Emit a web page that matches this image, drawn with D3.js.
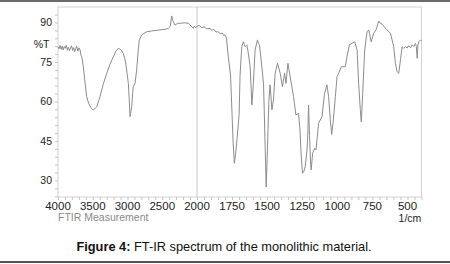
<!DOCTYPE html>
<html lang="en">
  <head>
    <meta charset="utf-8">
    <title>FT-IR spectrum</title>
    <script src="https://cdn.jsdelivr.net/npm/d3@7"></script>
    <style>
      body { margin: 0; background: #fff; }
      svg { display: block; font-family: 'Liberation Sans', Arial, sans-serif; }
    </style>
  </head>
  <body>
    <div id="chart"></div>
    <script>
      // spectrum (wavenumber in 1/cm, transmittance in %T)
      let wavenumbers = [
        4000, 3985, 3970, 3955, 3940, 3925, 3910, 3895, 3880, 3865, 3850, 3835, 3820, 3805, 3790, 3775,
        3760, 3745, 3730, 3715, 3700, 3683, 3670, 3655, 3636, 3612, 3587, 3565, 3540, 3515, 3492, 3470,
        3443, 3420, 3396, 3350, 3299, 3250, 3204, 3165, 3132, 3095, 3060, 3040, 3022, 3005, 2988, 2975,
        2964, 2955, 2940, 2925, 2917, 2892, 2868, 2845, 2830, 2796, 2724, 2650, 2532, 2460, 2413, 2385,
        2364, 2350, 2341, 2317, 2280, 2245, 2180, 2125, 2100, 2090, 2070, 2053, 2040, 2025, 2000, 1990,
        1979, 1965, 1950, 1930, 1907, 1895, 1880, 1865, 1848, 1835, 1820, 1810, 1800, 1790, 1779, 1761,
        1750, 1743, 1734, 1725, 1714, 1700, 1693, 1681, 1669, 1663, 1657, 1645, 1638, 1621, 1609, 1598,
        1586, 1569, 1562, 1555, 1543, 1526, 1520, 1514, 1507, 1500, 1494, 1488, 1479, 1466, 1455, 1443,
        1426, 1407, 1391, 1376, 1366, 1352, 1336, 1312, 1295, 1276, 1266, 1258, 1248, 1238, 1229, 1216,
        1210, 1205, 1198, 1190, 1186, 1176, 1162, 1152, 1138, 1134, 1109, 1091, 1074, 1062, 1050, 1040,
        1030, 1014, 1002, 991, 971, 943, 931, 914, 895, 876, 859, 848, 836, 829, 819, 805,
        788, 776, 759, 741, 724, 705, 695, 681, 660, 645, 621, 598, 586, 574, 562, 550,
        538, 526, 514, 502, 491, 478, 466, 455, 443, 437, 431, 425, 419, 407, 400
      ];
      let transmittance = [
        80.8, 80.0, 81.3, 79.8, 81.0, 79.6, 80.9, 80.2, 81.4, 79.5, 80.6, 79.2, 80.3, 81.2, 79.4, 80.5,
        78.9, 80.2, 81.0, 79.1, 80.4, 79.6, 77.6, 76.8, 73.2, 67.5, 61.8, 59.8, 58.3, 57.2, 56.8, 57.2,
        58.0, 59.8, 61.8, 66.5, 70.7, 74.3, 77.0, 79.2, 80.2, 79.7, 78.3, 76.5, 73.9, 70.5, 66.9, 60.5,
        54.2, 55.5, 58.0, 63.5, 65.6, 66.9, 72.0, 79.5, 83.4, 85.3, 86.5, 86.8, 87.2, 87.4, 87.8, 88.5,
        92.5, 90.8, 90.3, 89.0, 89.7, 89.7, 89.9, 89.7, 89.2, 88.7, 88.3, 87.8, 88.6, 88.1, 88.5, 88.9,
        88.7, 88.0, 88.4, 87.6, 87.8, 87.0, 87.4, 86.4, 86.5, 85.7, 86.0, 85.1, 85.3, 84.0, 78.0, 70.0,
        55.0, 45.0, 36.5, 40.0, 46.0, 55.0, 70.0, 80.8, 82.7, 81.6, 80.8, 81.5, 79.6, 73.2, 58.7, 66.9,
        79.6, 83.4, 82.0, 81.5, 75.8, 66.9, 55.0, 42.0, 27.5, 38.0, 49.0, 60.0, 66.3, 56.8, 60.6, 70.7,
        74.5, 70.7, 65.6, 70.7, 66.9, 74.5, 69.4, 61.8, 54.9, 55.5, 49.0, 40.0, 32.7, 33.5, 35.2, 41.6,
        48.0, 58.7, 47.0, 36.0, 34.0, 40.3, 42.2, 41.6, 49.2, 51.7, 54.2, 63.1, 66.3, 61.8, 53.0, 47.5,
        52.0, 61.8, 69.4, 70.7, 73.2, 73.2, 77.0, 81.5, 82.1, 82.7, 79.6, 66.9, 56.8, 52.3, 63.1, 79.6,
        86.5, 87.2, 82.7, 85.9, 87.2, 90.6, 89.8, 89.4, 88.0, 87.2, 85.9, 80.8, 74.5, 71.3, 70.7, 75.8,
        80.8, 80.2, 80.8, 80.3, 81.2, 80.4, 81.5, 80.9, 82.1, 81.0, 76.4, 81.5, 82.7, 83.4, 83.0
      ];
      let yTicks = [90, 75, 60, 45, 30];
      let xTicks = [4000, 3500, 3000, 2500, 2000, 1750, 1500, 1250, 1000, 750, 500];

      let spectrum = wavenumbers.map((w, i) => ({ w: w, t: transmittance[i] }));

      let width = 450, height = 264;
      let plot = { left: 58, top: 7, right: 421.5, bottom: 197 };

      let svg = d3.select('#chart').append('svg')
        .attr('width', width)
        .attr('height', height);

      // page rules above and below the figure
      svg.append('rect').attr('x', 0).attr('y', 0).attr('width', width).attr('height', 2).attr('fill', '#6f6868');
      svg.append('rect').attr('x', 0).attr('y', 261).attr('width', width).attr('height', 2).attr('fill', '#555');

      // the instrument doubles the scale below 2000 1/cm
      let x = d3.scaleLinear()
        .domain([4000, 2000, 400])
        .range([plot.left, 197, plot.right]);
      let y = d3.scaleLinear()
        .domain([23.7, 95.9])
        .range([plot.bottom, plot.top]);

      // frame and the 2000 divider
      svg.append('rect')
        .attr('x', plot.left).attr('y', plot.top)
        .attr('width', plot.right - plot.left).attr('height', plot.bottom - plot.top)
        .attr('fill', 'none').attr('stroke', '#d4d4d4');
      svg.append('line')
        .attr('x1', x(2000)).attr('x2', x(2000))
        .attr('y1', plot.top).attr('y2', plot.bottom)
        .attr('stroke', '#c8c8c8');

      // minor ticks
      let xMinor = d3.range(4000, 2000, -100).concat(d3.range(2000, 399, -50));
      let yMinor = d3.range(24, 96, 3);

      let xAxis = d3.axisBottom(x).tickValues(xMinor).tickSize(3).tickFormat('');
      svg.append('g').attr('transform', 'translate(0,' + plot.bottom + ')')
        .call(xAxis)
        .call(g => g.select('.domain').remove())
        .call(g => g.selectAll('line').attr('stroke', '#c4c4c4'));

      let yAxis = d3.axisLeft(y).tickValues(yMinor).tickSize(3).tickFormat('');
      svg.append('g').attr('transform', 'translate(' + plot.left + ',0)')
        .call(yAxis)
        .call(g => g.select('.domain').remove())
        .call(g => g.selectAll('line').attr('stroke', '#c4c4c4'));

      // tick labels
      svg.append('g').selectAll('text')
        .data(xTicks)
        .enter()
        .append('text')
        .attr('x', d => x(d))
        .attr('y', 210)
        .attr('text-anchor', 'middle')
        .attr('font-size', '11.5px')
        .attr('fill', '#222')
        .text(d => d);

      svg.append('g').selectAll('text')
        .data(yTicks)
        .enter()
        .append('text')
        .attr('x', 52)
        .attr('y', d => y(d) + 3.8)
        .attr('text-anchor', 'end')
        .attr('font-size', '10.5px')
        .attr('fill', '#222')
        .text(d => d);

      svg.append('text')
        .attr('x', 49.5).attr('y', 47.5)
        .attr('text-anchor', 'end')
        .attr('font-size', '10.5px')
        .attr('fill', '#222')
        .text('%T');

      svg.append('text')
        .attr('x', 58).attr('y', 221)
        .attr('font-size', '10.5px')
        .attr('fill', '#8a8a8a')
        .text('FTIR Measurement');

      svg.append('text')
        .attr('x', 410).attr('y', 222)
        .attr('text-anchor', 'middle')
        .attr('font-size', '10.5px')
        .attr('fill', '#222')
        .text('1/cm');

      // the trace
      let line = d3.line()
        .x(d => x(d.w))
        .y(d => y(d.t));
      svg.append('path')
        .datum(spectrum)
        .attr('d', line)
        .attr('fill', 'none')
        .attr('stroke', '#8c8c8c')
        .attr('stroke-width', 1);

      // caption
      let caption = svg.append('text')
        .attr('x', 224).attr('y', 251)
        .attr('text-anchor', 'middle')
        .attr('font-size', '12.8px')
        .attr('fill', '#111');
      caption.append('tspan').attr('font-weight', 'bold').text('Figure 4:');
      caption.append('tspan').text(' FT-IR spectrum of the monolithic material.');
    </script>
  </body>
</html>
